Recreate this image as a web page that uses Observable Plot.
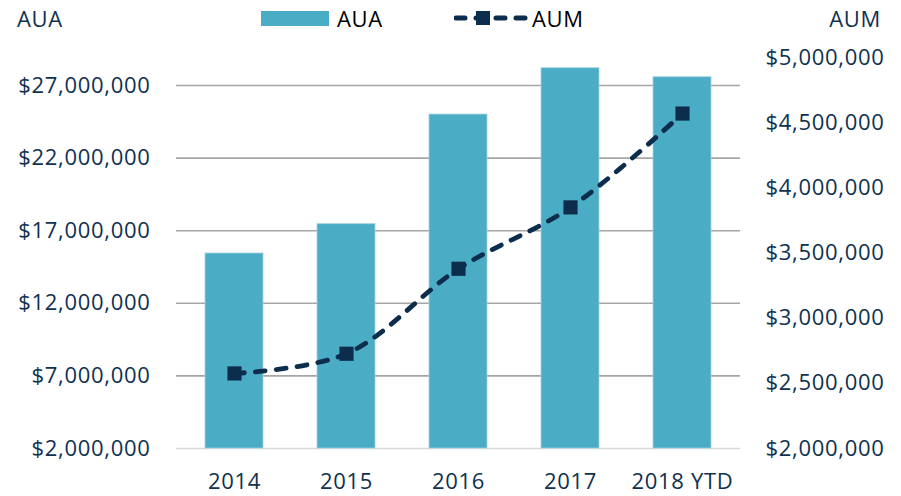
<!DOCTYPE html>
<html>
<head>
<meta charset="utf-8">
<script src="https://cdn.jsdelivr.net/npm/d3@7"></script>
<script src="https://cdn.jsdelivr.net/npm/@observablehq/plot@0.6"></script>
<style>
  html, body { margin: 0; padding: 0; background: #fff; }
  #wrap { position: relative; width: 901px; height: 496px; font-family: "Open Sans", sans-serif; }
  .lbl { position: absolute; font-size: 22px; letter-spacing: 0.7px; line-height: 1; white-space: nowrap; }
  #chart { position: absolute; left: 0; top: 0; }
</style>
</head>
<body>
<div id="wrap">
  <div id="chart"></div>
  <div class="lbl" style="left:17px; top:7px; color:#10314f;">AUA</div>
  <div class="lbl" style="right:20px; top:7px; color:#10314f;">AUM</div>
  <div id="legend" style="position:absolute; left:261px; top:5px; height:26px; display:flex; align-items:center;">
    <span style="display:inline-block; width:68px; height:15px; background:#4bacc6;"></span>
    <span class="lbl" style="position:static; color:#000; margin-left:8px;">AUA</span>
    <svg width="78" height="26" style="margin-left:71px;">
      <path d="M2,13 L72,13" stroke="#0d2d4c" stroke-width="5" stroke-linecap="round" stroke-dasharray="9,11"></path>
      <rect x="22" y="6" width="14" height="14" fill="#0d2d4c"></rect>
    </svg>
    <span class="lbl" style="position:static; color:#000; margin-left:0px;">AUM</span>
  </div>
</div>
<script>
const years = ["2014", "2015", "2016", "2017", "2018 YTD"];
const auaValues = [15430000, 17450000, 25000000, 28190000, 27570000];
const aumValues = [2576000, 2727000, 3379000, 3850000, 4570000];
const auaTicks = [2000000, 7000000, 12000000, 17000000, 22000000, 27000000];
const aumTicks = [2000000, 2500000, 3000000, 3500000, 4000000, 4500000, 5000000];

const auaDomain = [2000000, 28930000];
const aumDomain = [2000000, 5000000];
const k = (auaDomain[1] - auaDomain[0]) / (aumDomain[1] - aumDomain[0]);
const aumToAua = v => auaDomain[0] + (v - aumDomain[0]) * k;
const auaToAum = v => aumDomain[0] + (v - auaDomain[0]) / k;

const fmt = d3.format("$,.0f");
const data = years.map((y, i) => ({year: y, aua: auaValues[i], aum: aumValues[i], aumY: aumToAua(aumValues[i])}));

const textColor = "#10314f";
const lineColor = "#0d2d4c";

const chart = Plot.plot({
  width: 901,
  height: 496,
  marginLeft: 176,
  marginRight: 161,
  marginTop: 57,
  marginBottom: 48,
  style: {fontFamily: "Open Sans, sans-serif", fontSize: "22px", color: textColor, background: "transparent", letterSpacing: "0.7px"},
  x: {domain: years, paddingInner: 0.48, paddingOuter: 0.24, label: null},
  y: {domain: auaDomain, label: null},
  marks: [
    Plot.gridY(auaTicks.slice(1), {stroke: "#a6a6a6", strokeOpacity: 1, strokeWidth: 1.6}),
    Plot.ruleY([auaDomain[0]], {stroke: "#d9d9d9", strokeWidth: 1.6}),
    Plot.barY(data, {x: "year", y1: auaDomain[0], y2: "aua", fill: "#4bacc6", stroke: "#9fd3e2", strokeWidth: 0.8}),
    Plot.lineY(data, {x: "year", y: "aumY", stroke: lineColor, strokeWidth: 4.8, strokeDasharray: "10,11", strokeLinecap: "round", curve: "catmull-rom"}),
    Plot.dot(data, {x: "year", y: "aumY", symbol: "square", r: 8, fill: lineColor, stroke: "none"}),
    Plot.axisX({tickSize: 0, tickPadding: 25, fill: textColor}),
    Plot.axisY(auaTicks, {anchor: "left", tickSize: 0, tickPadding: 26, tickFormat: fmt, fill: textColor, label: null}),
    Plot.axisY(aumTicks.map(aumToAua), {anchor: "right", tickSize: 0, tickPadding: 25, tickFormat: d => fmt(Math.round(auaToAum(d) / 1000) * 1000), fill: textColor, label: null})
  ]
});
document.getElementById("chart").appendChild(chart);
</script>
</body>
</html>
